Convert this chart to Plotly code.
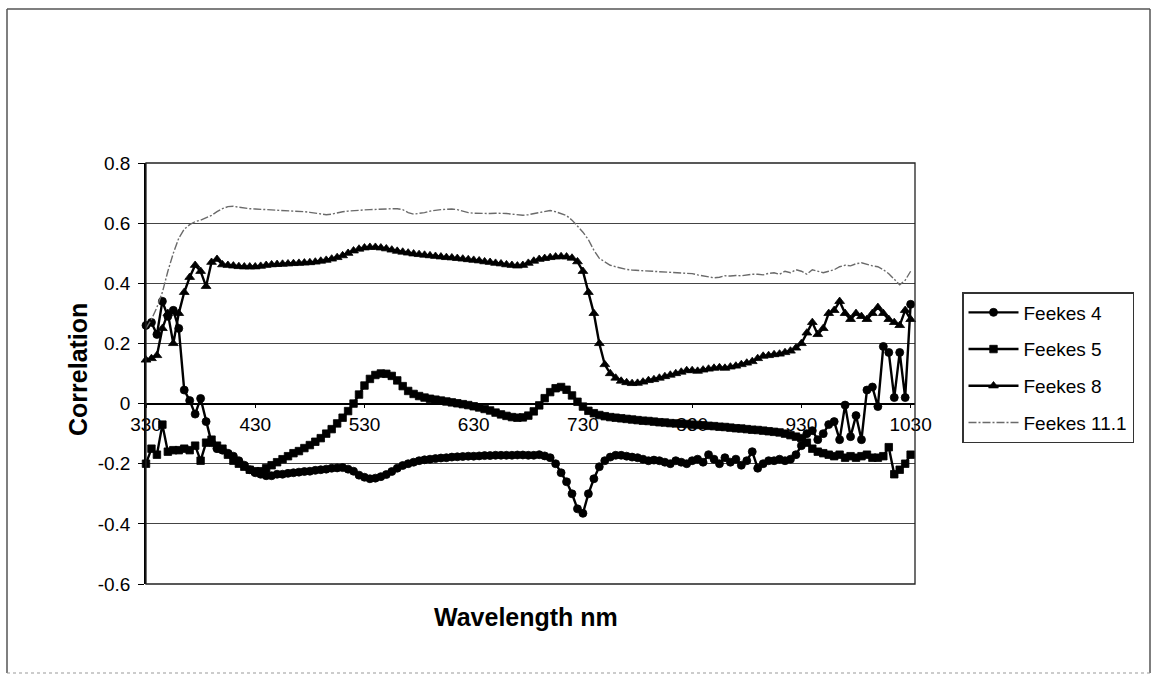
import plotly.graph_objects as go

# Wavelength grid (nm), 5 nm steps from 330 to 1030
wavelength = list(range(330, 1031, 5))

feekes_4 = [
    0.26, 0.27, 0.23, 0.34, 0.29, 0.31, 0.25, 0.045, 0.01, -0.035,
    0.017, -0.06, -0.13, -0.15, -0.155, -0.165, -0.175, -0.19, -0.205, -0.22,
    -0.23, -0.235, -0.24, -0.24, -0.235, -0.235, -0.232, -0.23, -0.228, -0.226,
    -0.225, -0.222, -0.22, -0.218, -0.215, -0.214, -0.213, -0.218, -0.225, -0.238,
    -0.245, -0.25, -0.248, -0.243, -0.236, -0.226, -0.215, -0.206, -0.2, -0.195,
    -0.19, -0.187, -0.185, -0.183, -0.181, -0.18, -0.178, -0.177, -0.176, -0.175,
    -0.175, -0.174, -0.173, -0.173, -0.172, -0.172, -0.172, -0.172, -0.171, -0.171,
    -0.172, -0.172, -0.17, -0.174, -0.18, -0.2, -0.23, -0.26, -0.3, -0.35,
    -0.365, -0.3, -0.25, -0.21, -0.19, -0.178, -0.172, -0.172, -0.175, -0.178,
    -0.18, -0.185, -0.19, -0.188, -0.19, -0.195, -0.2, -0.19, -0.195, -0.2,
    -0.19, -0.185, -0.195, -0.17, -0.185, -0.2, -0.18, -0.195, -0.185, -0.205,
    -0.19, -0.16, -0.215, -0.2, -0.19, -0.19, -0.185, -0.19, -0.185, -0.17,
    -0.14, -0.1, -0.09, -0.12, -0.1, -0.07, -0.06, -0.12, -0.005, -0.11,
    -0.04, -0.12, 0.045, 0.055, -0.01, 0.19, 0.17, 0.02, 0.17, 0.02,
    0.33,
]

feekes_5 = [
    -0.2, -0.15, -0.17, -0.07, -0.16, -0.155, -0.155, -0.15, -0.155, -0.14,
    -0.19, -0.13, -0.12, -0.14, -0.15, -0.17, -0.19, -0.2, -0.21, -0.22,
    -0.225, -0.225, -0.215, -0.205, -0.195, -0.185, -0.175, -0.165, -0.158, -0.148,
    -0.138, -0.127, -0.115, -0.1, -0.085, -0.066, -0.047, -0.025, 0.0, 0.03,
    0.06, 0.082, 0.095, 0.1, 0.099, 0.092, 0.077, 0.058, 0.042, 0.032,
    0.025, 0.02, 0.016, 0.013, 0.01, 0.007, 0.004, 0.001, -0.002, -0.005,
    -0.009, -0.013, -0.018, -0.023, -0.03, -0.036, -0.041, -0.045, -0.047, -0.046,
    -0.04, -0.026, -0.006, 0.018, 0.038, 0.051, 0.055, 0.046, 0.027, 0.006,
    -0.01, -0.024, -0.032, -0.038, -0.042, -0.045, -0.047, -0.049, -0.051, -0.053,
    -0.055, -0.057, -0.058, -0.06, -0.062, -0.063, -0.065, -0.066, -0.067, -0.068,
    -0.07, -0.071, -0.072, -0.074, -0.075, -0.077, -0.078, -0.08, -0.082, -0.083,
    -0.085, -0.087, -0.088, -0.09, -0.092, -0.094, -0.096, -0.1, -0.105, -0.11,
    -0.115, -0.13, -0.15, -0.16, -0.165, -0.17, -0.175, -0.17, -0.18, -0.175,
    -0.18, -0.175, -0.17, -0.18, -0.18, -0.175, -0.145, -0.235, -0.22, -0.2,
    -0.17,
]

feekes_8 = [
    0.145, 0.15, 0.16, 0.25, 0.3, 0.2, 0.3, 0.37, 0.42, 0.46,
    0.44, 0.39, 0.47, 0.48, 0.462, 0.46, 0.458, 0.456, 0.455, 0.455,
    0.455, 0.457, 0.46, 0.462, 0.463, 0.464, 0.465, 0.466, 0.467, 0.468,
    0.469, 0.471, 0.474, 0.477, 0.481, 0.486, 0.492, 0.5, 0.508, 0.514,
    0.518, 0.52, 0.52, 0.518, 0.515, 0.511, 0.507, 0.504, 0.501, 0.498,
    0.496, 0.494, 0.492, 0.49, 0.488, 0.486, 0.485, 0.483, 0.481, 0.479,
    0.477, 0.475, 0.472, 0.47, 0.467, 0.465, 0.462, 0.46, 0.458, 0.46,
    0.467, 0.474, 0.48, 0.483, 0.486, 0.488, 0.489, 0.488, 0.484, 0.472,
    0.44, 0.37, 0.3, 0.2, 0.13, 0.1, 0.085, 0.075, 0.07, 0.067,
    0.068, 0.072, 0.077, 0.08, 0.085, 0.09, 0.095, 0.1, 0.105, 0.11,
    0.11, 0.108, 0.112, 0.115, 0.118, 0.12, 0.118, 0.122, 0.125, 0.13,
    0.135, 0.14, 0.15, 0.158, 0.16, 0.163, 0.165, 0.17, 0.175, 0.185,
    0.2, 0.235, 0.27, 0.23, 0.25, 0.3, 0.31, 0.34, 0.3, 0.28,
    0.3, 0.29, 0.28, 0.3, 0.32, 0.3, 0.28, 0.27, 0.26, 0.31,
    0.28,
]

feekes_11_1 = [
    0.25, 0.28, 0.32, 0.37, 0.44, 0.5, 0.55, 0.58, 0.595, 0.605,
    0.61, 0.618, 0.626, 0.638, 0.648, 0.655, 0.656, 0.653, 0.65, 0.648,
    0.647, 0.646, 0.645, 0.645, 0.645, 0.644, 0.643, 0.642, 0.64, 0.638,
    0.636, 0.633, 0.63, 0.628, 0.63, 0.635, 0.638, 0.64, 0.642, 0.643,
    0.644, 0.645, 0.645, 0.646, 0.647, 0.648, 0.648, 0.645, 0.635, 0.63,
    0.632, 0.635, 0.64, 0.643, 0.645, 0.646, 0.647, 0.645, 0.64, 0.635,
    0.633, 0.632, 0.632, 0.632, 0.633, 0.633, 0.632, 0.63, 0.628, 0.626,
    0.628, 0.632, 0.636, 0.64, 0.642, 0.638, 0.632, 0.625, 0.61, 0.59,
    0.57, 0.545, 0.51, 0.483, 0.47, 0.46, 0.455, 0.45, 0.446, 0.444,
    0.443, 0.442, 0.441, 0.44, 0.44, 0.439, 0.438, 0.436, 0.435, 0.434,
    0.432, 0.428, 0.425, 0.42, 0.418, 0.42, 0.425, 0.424, 0.426, 0.425,
    0.428, 0.43, 0.43, 0.428, 0.433, 0.435, 0.43, 0.44, 0.435, 0.445,
    0.44, 0.43, 0.445, 0.44, 0.435, 0.44, 0.445, 0.455, 0.46, 0.458,
    0.465, 0.468, 0.462, 0.458, 0.455, 0.445, 0.432, 0.415, 0.395, 0.41,
    0.44,
]

x_tick_values = [330, 430, 530, 630, 730, 830, 930, 1030]
y_tick_values = [0.8, 0.6, 0.4, 0.2, 0, -0.2, -0.4, -0.6]
y_tick_labels = ["0.8", "0.6", "0.4", "0.2", "0", "-0.2", "-0.4", "-0.6"]

FONT = "Liberation Sans, Arial, sans-serif"
W, H = 1158, 676
L, R, T, B = 146, 243, 163, 92
Y_MIN, Y_MAX = -0.6, 0.8


def px_to_paper(px, py):
    """Convert a page pixel position to paper coordinates."""
    pw = W - L - R
    ph = H - T - B
    return (px - L) / pw, (H - B - py) / ph


fig = go.Figure()

marker_series = [
    ("Feekes 4", feekes_4, "circle", 8),
    ("Feekes 5", feekes_5, "square", 7.5),
    ("Feekes 8", feekes_8, "triangle-up", 8.5),
]
for name, values, symbol, size in marker_series:
    fig.add_trace(go.Scatter(
        x=wavelength, y=values, name=name, mode="lines+markers",
        line=dict(color="black", width=2.4),
        marker=dict(symbol=symbol, size=size, color="black",
                    line=dict(color="black", width=0.8)),
        cliponaxis=False, legendgroup=name,
    ))

fig.add_trace(go.Scatter(
    x=wavelength, y=feekes_11_1, name="Feekes 11.1", mode="lines",
    line=dict(color="#6a6a6a", width=1.4, dash="8px,2px,2px,2px"),
    cliponaxis=False, legendgroup="Feekes 11.1",
))

# Outer frame around the whole chart
fx0, fy0 = px_to_paper(7, 9)
fx1, fy1 = px_to_paper(1150, 673)
shapes = [
    dict(type="line", xref="paper", yref="paper", x0=fx0, y0=fy0, x1=fx1, y1=fy0,
         line=dict(color="#555", width=1.5)),
    dict(type="line", xref="paper", yref="paper", x0=fx0, y0=fy0, x1=fx0, y1=fy1,
         line=dict(color="#555", width=1.5)),
    dict(type="line", xref="paper", yref="paper", x0=fx1, y0=fy0, x1=fx1, y1=fy1,
         line=dict(color="#555", width=1.5)),
    dict(type="line", xref="paper", yref="paper", x0=fx0, y0=fy1, x1=fx1, y1=fy1,
         line=dict(color="#999", width=1, dash="dot")),
    # plot area border
    dict(type="rect", xref="paper", yref="paper", x0=0, y0=0, x1=1, y1=1,
         line=dict(color="#222", width=1.3), layer="above"),
]

ax_y, ay_y = px_to_paper(62, 370)
ax_x, ay_x = px_to_paper(526, 633)
lx, ly = px_to_paper(962, 292)

fig.update_layout(
    width=W, height=H,
    margin=dict(l=L, r=R, t=T, b=B),
    paper_bgcolor="white", plot_bgcolor="white",
    font=dict(family=FONT, color="black", size=19),
    showlegend=True,
    legend=dict(
        x=lx, y=ly, xanchor="left", yanchor="top",
        bordercolor="#333", borderwidth=1.5, bgcolor="white",
        font=dict(family=FONT, size=19, color="black"),
        itemwidth=50, tracegroupgap=9, traceorder="grouped",
    ),
    xaxis=dict(
        range=[330, 1034], tickmode="array", tickvals=x_tick_values,
        ticktext=[str(v) for v in x_tick_values],
        anchor="free", position=(0 - Y_MIN) / (Y_MAX - Y_MIN),
        showline=True, linecolor="black", linewidth=1.5,
        ticks="outside", ticklen=4, tickcolor="black",
        showgrid=False, zeroline=False, layer="below traces",
        tickfont=dict(family=FONT, size=19, color="black"),
    ),
    yaxis=dict(
        range=[Y_MIN, Y_MAX], tickmode="array", tickvals=y_tick_values,
        ticktext=y_tick_labels,
        showline=True, linecolor="black", linewidth=1.5,
        ticks="outside", ticklen=6, tickcolor="black", ticklabelstandoff=4,
        showgrid=True, gridcolor="#444", gridwidth=1, zeroline=False,
        tickfont=dict(family=FONT, size=19, color="black"),
    ),
    shapes=shapes,
    annotations=[
        dict(text="<b>Correlation</b>", xref="paper", yref="paper",
             x=ax_y, y=ay_y, textangle=-90, showarrow=False,
             font=dict(family=FONT, size=25, color="black")),
        dict(text="<b>Wavelength nm</b>", xref="paper", yref="paper",
             x=ax_x, y=ay_x, showarrow=False,
             font=dict(family=FONT, size=25, color="black")),
    ],
)

fig.write_html("out.html")
